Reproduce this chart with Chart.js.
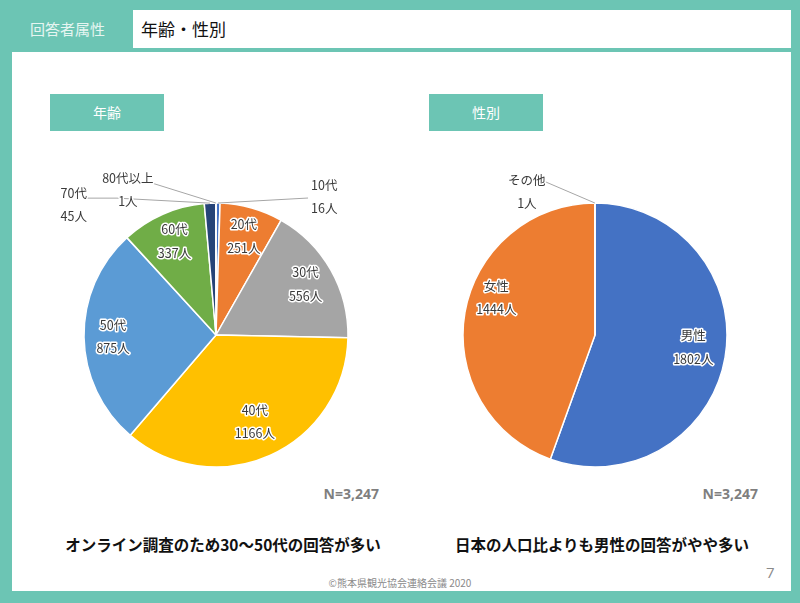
<!DOCTYPE html>
<html>
<head>
<meta charset="utf-8">
<script src="https://cdn.jsdelivr.net/npm/chart.js@4.4.0/dist/chart.umd.min.js"></script>
<style>
  html, body { margin: 0; padding: 0; }
  body {
    width: 800px; height: 603px; position: relative; overflow: hidden;
    background: #6cc5b4;
    font-family: "Noto Sans CJK JP", "Noto Sans", sans-serif;
  }
  .abs { position: absolute; }
  #panel { left: 12px; top: 52px; width: 779px; height: 539px; background: #fff; }
  #hdrBox { left: 133px; top: 10px; width: 658px; height: 38px; background: #fff; }
  #hdrLeft { left: 30px; top: 10px; height: 38px; line-height: 38px; color: #e6f5f1; font-size: 15px; }
  #hdrTitle { left: 141px; top: 10px; height: 38px; line-height: 37px; color: #111; font-size: 17px; }
  .tag { top: 94px; width: 114px; height: 37px; line-height: 37px; background: #6cc5b4;
         color: #fff; font-size: 14px; text-align: center; }
  .n { top: 484px; font-size: 14px; font-weight: bold; color: #7f7f7f;
       font-family: "Open Sans", sans-serif; text-align: right; width: 100px; }
  .cap { top: 533px; font-size: 15.5px; font-weight: bold; color: #111; text-align: center; width: 380px; }
  #foot { left: 250px; top: 575px; width: 300px; text-align: center; font-size: 10px; color: #8a8a8a; }
  #page { left: 766px; top: 562px; font-size: 15px; color: #8a8a8a; font-family: "Open Sans", sans-serif; }
  .cv { width: 400px; height: 400px; top: 135px; }
</style>
</head>
<body>
<div class="abs" id="panel"></div>
<div class="abs" id="hdrBox"></div>
<div class="abs" id="hdrLeft">回答者属性</div>
<div class="abs" id="hdrTitle">年齢・性別</div>
<div class="abs tag" style="left:50px">年齢</div>
<div class="abs tag" style="left:429px">性別</div>
<div class="abs n" style="left:279px">N=3,247</div>
<div class="abs n" style="left:658px">N=3,247</div>
<div class="abs cap" style="left:33px">オンライン調査のため30～50代の回答が多い</div>
<div class="abs cap" style="left:412px">日本の人口比よりも男性の回答がやや多い</div>
<div class="abs" id="foot">©熊本県観光協会連絡会議 2020</div>
<div class="abs" id="page">7</div>
<div class="abs cv" style="left:16px"><canvas id="ageChart"></canvas></div>
<div class="abs cv" style="left:395px"><canvas id="sexChart"></canvas></div>

<script>
const ageLabels = ['10代', '20代', '30代', '40代', '50代', '60代', '70代', '80代以上'];
const ageValues = [16, 251, 556, 1166, 875, 337, 45, 1];
const ageColors = ['#4472c4', '#ed7d31', '#a5a5a5', '#ffc000', '#5b9bd5', '#70ad47', '#264478', '#9e480e'];

const sexLabels = ['男性', '女性', 'その他'];
const sexValues = [1802, 1444, 1];
const sexColors = ['#4472c4', '#ed7d31', '#a5a5a5'];

// labels that sit outside the pie: offsets from the slice's edge point
const ageOutside = {
  0: { line: [[90, -5]], text: [93, -18], align: 'left' },
  6: { line: [[-93, -5], [-125, -5]], text: [-123, -10], align: 'right' },
  7: { line: [[-64, -20]], text: [-88, -25], align: 'center' }
};
const sexOutside = {
  2: { line: [[-49, -21], [-51, -21]], text: [-68, -23], align: 'center' }
};
// small nudges for inside labels: extra angle (deg) and radius fraction
const ageInside = { 3: { turn: 0, r: 0.72 } };
const sexInside = { 0: { turn: -3, r: 0.75 }, 1: { turn: 11, r: 0.8 } };

const pieLabels = {
  id: 'pieLabels',
  afterDatasetsDraw(chart, args, opts) {
    const ctx = chart.ctx;
    const ds = chart.data.datasets[0];
    const meta = chart.getDatasetMeta(0);
    const outside = opts.outside || {};
    const inside = opts.inside || {};
    ctx.save();
    ctx.font = '12.5px "Noto Sans CJK JP", sans-serif';
    ctx.textBaseline = 'middle';
    ctx.lineJoin = 'round';
    meta.data.forEach((arc, i) => {
      const p = arc.getProps(['x', 'y', 'startAngle', 'endAngle', 'outerRadius'], true);
      const mid = (p.startAngle + p.endAngle) / 2;
      const lines = [chart.data.labels[i], ds.data[i] + '人'];
      let tx, ty, align;
      if (outside[i]) {
        const o = outside[i];
        const ax = p.x + p.outerRadius * Math.cos(mid);
        const ay = p.y + p.outerRadius * Math.sin(mid);
        ctx.strokeStyle = '#a6a6a6';
        ctx.lineWidth = 1;
        ctx.beginPath();
        ctx.moveTo(ax, ay);
        o.line.forEach(pt => ctx.lineTo(ax + pt[0], ay + pt[1]));
        ctx.stroke();
        tx = ax + o.text[0];
        ty = ay + o.text[1];
        align = o.align;
      } else {
        const adj = inside[i] || { turn: 0, r: 0.78 };
        const a = mid + adj.turn * Math.PI / 180;
        const rr = p.outerRadius * adj.r;
        tx = p.x + rr * Math.cos(a);
        ty = p.y + rr * Math.sin(a) - 11.5;
        align = 'center';
      }
      ctx.textAlign = align;
      lines.forEach((t, k) => {
        const yy = ty + k * 23.5;
        ctx.strokeStyle = '#fff';
        ctx.lineWidth = 3;
        ctx.strokeText(t, tx, yy);
        ctx.fillStyle = '#3a3a3a';
        ctx.fillText(t, tx, yy);
      });
    });
    ctx.restore();
  }
};

function makePie(id, labels, values, colors, outside, inside) {
  new Chart(document.getElementById(id), {
    type: 'pie',
    data: {
      labels: labels,
      datasets: [{
        data: values,
        backgroundColor: colors,
        borderColor: '#ffffff',
        borderWidth: 1.5,
        radius: 132
      }]
    },
    options: {
      responsive: true,
      maintainAspectRatio: false,
      animation: false,
      layout: { padding: 0 },
      events: [],
      plugins: {
        legend: { display: false },
        tooltip: { enabled: false },
        pieLabels: { outside: outside, inside: inside }
      }
    },
    plugins: [pieLabels]
  });
}

makePie('ageChart', ageLabels, ageValues, ageColors, ageOutside, ageInside);
makePie('sexChart', sexLabels, sexValues, sexColors, sexOutside, sexInside);
</script>
</body>
</html>
